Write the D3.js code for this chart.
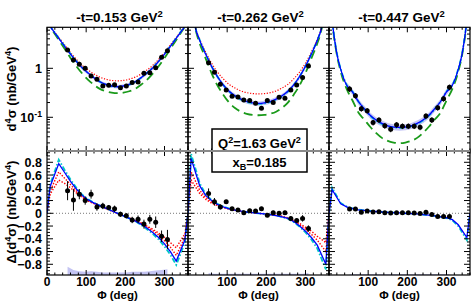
<!DOCTYPE html>
<html>
<head>
<meta charset="utf-8">
<script src="https://cdn.jsdelivr.net/npm/d3@7"></script>
<style>
body { margin: 0; background: #fff; }
text { font-family: "Liberation Sans", Arial, sans-serif; font-weight: bold; fill: #000; }
</style>
</head>
<body>
<svg width="474" height="302"></svg>
<script>
// ---- data ----
var panelTitles = ["0.153", "0.262", "0.447"];
var xTickLabels = [[0, 100, 200, 300], [100, 200, 300], [100, 200, 300]];

var dataPhi = [52.5, 67.5, 82.5, 97.5, 112.5, 127.5, 142.5, 157.5, 172.5,
               187.5, 202.5, 217.5, 232.5, 247.5, 262.5, 277.5, 292.5, 307.5];

// d4sigma (nb/GeV4)
var sig1 = [2.36, 1.48, 1.21, 1.0, 0.70, 0.60, 0.435, 0.45, 0.46, 0.40, 0.435, 0.51, 0.525, 0.79, 0.81, 1.03, 1.68, 2.29];
var sig2 = [1.30, 0.83, 0.47, 0.36, 0.27, 0.26, 0.225, 0.22, 0.193, 0.153, 0.22, 0.20, 0.256, 0.245, 0.36, 0.456, 0.65, 1.11];
var sig3 = [0.378, 0.276, 0.15, 0.136, 0.078, 0.088, 0.067, 0.057, 0.070, 0.066, 0.066, 0.066, 0.0625, 0.106, 0.088, 0.157, 0.24, 0.41];
var sigErrRel = [0.05, 0.07, 0.13];

// Delta(d4sigma)
var dif1 = [0.355, 0.21, 0.30, 0.20, 0.30, 0.10, 0.115, 0.09, 0.07, -0.015, -0.04, -0.105, -0.095, -0.17, -0.095, -0.14, -0.36, -0.41];
var dif1Err = [0.15, 0.17, 0.08, 0.065, 0.07, 0.06, 0.05, 0.04, 0.05, 0.04, 0.04, 0.05, 0.06, 0.07, 0.07, 0.09, 0.09, 0.15];
var dif2 = [0.31, 0.18, 0.10, 0.18, 0.07, 0.05, 0.01, 0.04, 0.035, 0.07, -0.03, 0.01, 0.0, 0.01, -0.08, -0.115, -0.08, -0.24];
var dif2Err = [0.08, 0.06, 0.04, 0.03, 0.03, 0.03, 0.03, 0.03, 0.03, 0.03, 0.03, 0.03, 0.03, 0.03, 0.03, 0.03, 0.05, 0.05];
var dif3 = [0.067, 0.067, 0.015, 0.035, 0.02, 0.025, 0.01, 0.005, 0.01, 0.01, 0.01, 0.005, -0.005, 0.015, -0.02, -0.05, -0.05, -0.05];
var dif3Err = [0.015, 0.015, 0.015, 0.015, 0.015, 0.015, 0.015, 0.015, 0.015, 0.015, 0.015, 0.015, 0.015, 0.015, 0.015, 0.015, 0.015, 0.015];

// systematic uncertainty of Delta
var sys1 = [0.13, 0.08, 0.06, 0.05, 0.06, 0.05, 0.04, 0.04, 0.04, 0.04, 0.04, 0.05, 0.05, 0.05, 0.06, 0.07, 0.08, 0.09];
var sys2 = [0.03, 0.02, 0.02, 0.02, 0.02, 0.02, 0.02, 0.02, 0.02, 0.02, 0.02, 0.02, 0.02, 0.02, 0.02, 0.02, 0.02, 0.03];
var sys3 = [0.01, 0.01, 0.01, 0.01, 0.01, 0.01, 0.01, 0.01, 0.01, 0.01, 0.01, 0.01, 0.01, 0.01, 0.01, 0.01, 0.01, 0.01];

// model curves, cross section
var phiTop = [0, 5, 10, 15, 20, 30, 45, 60, 75, 90, 105, 120, 135, 150, 165, 180,
              195, 210, 225, 240, 255, 270, 285, 300, 315, 330, 340, 345, 350, 355, 360];
var fit1 = [20, 10, 6.9, 6.0, 5.3, 4.1, 2.8, 1.95, 1.38, 1.02, 0.80, 0.64, 0.53, 0.47, 0.435, 0.42,
            0.435, 0.47, 0.53, 0.64, 0.80, 1.02, 1.38, 1.95, 2.8, 4.1, 5.3, 6.0, 6.9, 10, 20];
var cya1 = [20, 10, 7.0, 6.1, 5.35, 4.15, 2.85, 1.98, 1.40, 1.03, 0.80, 0.64, 0.53, 0.465, 0.43, 0.415,
            0.43, 0.465, 0.53, 0.64, 0.80, 1.03, 1.40, 1.98, 2.85, 4.15, 5.35, 6.1, 7.0, 10, 20];
var red1 = [20, 10, 7.0, 6.1, 5.4, 4.3, 3.0, 2.1, 1.52, 1.15, 0.92, 0.76, 0.66, 0.60, 0.565, 0.555,
            0.565, 0.60, 0.66, 0.76, 0.92, 1.15, 1.52, 2.1, 3.0, 4.3, 5.4, 6.1, 7.0, 10, 20];
var grn1 = [20, 10, 6.8, 5.8, 5.0, 3.8, 2.5, 1.62, 1.10, 0.78, 0.58, 0.46, 0.38, 0.34, 0.318, 0.31,
            0.318, 0.34, 0.38, 0.46, 0.58, 0.78, 1.10, 1.62, 2.5, 3.8, 5.0, 5.8, 6.8, 10, 20];

var fit2 = [80, 30, 15, 9.5, 6.2, 3.7, 1.95, 1.10, 0.68, 0.46, 0.34, 0.275, 0.235, 0.21, 0.197, 0.192,
            0.197, 0.21, 0.235, 0.275, 0.34, 0.46, 0.68, 1.10, 1.95, 3.7, 6.2, 9.5, 15, 30, 80];
var cya2 = [80, 30, 15, 9.6, 6.3, 3.75, 1.98, 1.11, 0.68, 0.455, 0.335, 0.27, 0.23, 0.205, 0.193, 0.188,
            0.193, 0.205, 0.23, 0.27, 0.335, 0.455, 0.68, 1.11, 1.98, 3.75, 6.3, 9.6, 15, 30, 80];
var red2 = [80, 30, 15, 9.6, 6.4, 3.9, 2.15, 1.28, 0.84, 0.61, 0.47, 0.395, 0.345, 0.318, 0.305, 0.30,
            0.305, 0.318, 0.345, 0.395, 0.47, 0.61, 0.84, 1.28, 2.15, 3.9, 6.4, 9.6, 15, 30, 80];
var grn2 = [80, 30, 14, 8.8, 5.8, 3.2, 1.6, 0.80, 0.45, 0.29, 0.20, 0.155, 0.13, 0.118, 0.112, 0.11,
            0.112, 0.118, 0.13, 0.155, 0.20, 0.29, 0.45, 0.80, 1.6, 3.2, 5.8, 8.8, 14, 30, 80];

var fit3 = [40, 15, 6.9, 3.5, 2.0, 0.95, 0.45, 0.33, 0.21, 0.15, 0.11, 0.088, 0.075, 0.067, 0.063, 0.062,
            0.063, 0.067, 0.075, 0.088, 0.11, 0.15, 0.21, 0.33, 0.45, 0.95, 2.0, 3.5, 6.9, 15, 40];
var cya3 = [40, 15, 7.0, 3.6, 2.05, 0.97, 0.46, 0.335, 0.21, 0.148, 0.108, 0.086, 0.073, 0.066, 0.062, 0.061,
            0.062, 0.066, 0.073, 0.086, 0.108, 0.148, 0.21, 0.335, 0.46, 0.97, 2.05, 3.6, 7.0, 15, 40];
var grn3 = [40, 15, 6.5, 3.3, 1.9, 0.85, 0.38, 0.22, 0.125, 0.09, 0.064, 0.048, 0.038, 0.033, 0.0305, 0.0295,
            0.0305, 0.033, 0.038, 0.048, 0.064, 0.09, 0.125, 0.22, 0.38, 0.85, 1.9, 3.3, 6.5, 15, 40];
var bandRel = [0.08, 0.10, 0.14];

// model curves, helicity difference
var phiBot = [0, 8, 30, 45, 60, 75, 90, 105, 120, 135, 150, 165, 180,
              195, 210, 225, 240, 255, 270, 285, 300, 315, 330, 352, 360];
var dFit1 = [0, 0.42, 0.78, 0.64, 0.50, 0.38, 0.28, 0.21, 0.16, 0.12, 0.08, 0.04, 0,
             -0.04, -0.08, -0.12, -0.17, -0.23, -0.30, -0.38, -0.48, -0.60, -0.75, -0.42, 0];
var dCya1 = [0, 0.45, 0.84, 0.68, 0.53, 0.40, 0.29, 0.22, 0.165, 0.12, 0.08, 0.04, 0,
             -0.04, -0.08, -0.12, -0.18, -0.25, -0.32, -0.41, -0.52, -0.65, -0.81, -0.46, 0];
var dRedA1 = [0, 0.35, 0.65, 0.55, 0.45, 0.35, 0.27, 0.20, 0.155, 0.115, 0.075, 0.037, 0,
              -0.037, -0.075, -0.115, -0.16, -0.21, -0.27, -0.34, -0.43, -0.53, -0.66, -0.38, 0];
var dRedB1 = [0, 0.30, 0.52, 0.47, 0.40, 0.32, 0.25, 0.19, 0.15, 0.11, 0.072, 0.035, 0,
              -0.035, -0.072, -0.11, -0.15, -0.20, -0.25, -0.31, -0.38, -0.46, -0.54, -0.32, 0];

var dFit2 = [0, 0.86, 0.43, 0.28, 0.20, 0.14, 0.10, 0.07, 0.05, 0.035, 0.02, 0.01, 0,
             -0.01, -0.02, -0.035, -0.055, -0.08, -0.13, -0.20, -0.28, -0.38, -0.50, -0.80, 0];
var dCya2 = [0, 0.93, 0.47, 0.30, 0.21, 0.15, 0.105, 0.075, 0.052, 0.036, 0.02, 0.01, 0,
             -0.01, -0.02, -0.036, -0.058, -0.085, -0.14, -0.21, -0.30, -0.41, -0.55, -0.88, 0];
var dRedA2 = [0, 0.65, 0.36, 0.25, 0.18, 0.13, 0.095, 0.07, 0.05, 0.035, 0.02, 0.01, 0,
              -0.01, -0.02, -0.035, -0.05, -0.075, -0.12, -0.18, -0.25, -0.33, -0.42, -0.60, 0];
var dRedB2 = [0, 0.52, 0.31, 0.22, 0.16, 0.12, 0.09, 0.065, 0.047, 0.033, 0.02, 0.01, 0,
              -0.01, -0.02, -0.033, -0.047, -0.07, -0.11, -0.16, -0.22, -0.28, -0.36, -0.46, 0];

var dFit3 = [0, 0.37, 0.15, 0.10, 0.075, 0.055, 0.045, 0.035, 0.028, 0.02, 0.015, 0.01, 0.005,
             0, -0.005, -0.01, -0.02, -0.03, -0.04, -0.055, -0.07, -0.10, -0.18, -0.38, 0];
var dCya3 = [0, 0.40, 0.16, 0.105, 0.078, 0.057, 0.046, 0.036, 0.028, 0.02, 0.015, 0.01, 0.005,
             0, -0.005, -0.01, -0.02, -0.03, -0.042, -0.058, -0.075, -0.11, -0.20, -0.42, 0];

// ---- layout ----
var svg = d3.select("svg");
var W = 141, X0 = [47, 188, 329];
var TOP = 27.3, MID = 151, BOT = 275;
var yTop = d3.scaleLog().domain([0.0205, 6.87]).range([MID, TOP]);
var yBot = d3.scaleLinear().domain([-0.968, 0.977]).range([BOT, MID]);

var panels = [
  { sig: sig1, dif: dif1, difErr: dif1Err, sys: sys1,
    top: { fit: fit1, cya: cya1, red: red1, grn: grn1 },
    bot: { fit: dFit1, cya: dCya1, reds: [dRedA1, dRedB1] } },
  { sig: sig2, dif: dif2, difErr: dif2Err, sys: sys2,
    top: { fit: fit2, cya: cya2, red: red2, grn: grn2 },
    bot: { fit: dFit2, cya: dCya2, reds: [dRedA2, dRedB2] } },
  { sig: sig3, dif: dif3, difErr: dif3Err, sys: sys3,
    top: { fit: fit3, cya: cya3, red: null, grn: grn3 },
    bot: { fit: dFit3, cya: dCya3, reds: [] } }
];

var defs = svg.append("defs");

function supText(sel, parts) {
  // parts: [text, mode] with mode "" / "sup" / "sub"
  var shift = 0;
  parts.forEach(function(p) {
    var t = sel.append("tspan").text(p[0]);
    var target = p[1] == "sup" ? -5 : p[1] == "sub" ? 3 : 0;
    t.attr("dy", target - shift);
    if (p[1]) t.attr("font-size", "0.7em");
    shift = target;
  });
}

panels.forEach(function(p, i) {
  var x = d3.scaleLinear().domain([0, 360]).range([X0[i], X0[i] + W]);

  defs.append("clipPath").attr("id", "ct" + i).append("rect")
      .attr("x", X0[i]).attr("y", TOP).attr("width", W).attr("height", MID - TOP);
  defs.append("clipPath").attr("id", "cb" + i).append("rect")
      .attr("x", X0[i]).attr("y", MID).attr("width", W).attr("height", BOT - MID);

  // ---------- top panel ----------
  var gt = svg.append("g").attr("clip-path", "url(#ct" + i + ")");
  var lineT = d3.line().x(function(d) { return x(d[0]); })
      .y(function(d) { return yTop(d[1]); }).curve(d3.curveMonotoneX);
  var pairs = function(arr) { return phiTop.map(function(f, k) { return [f, arr[k]]; }); };

  var bandIdx = d3.range(phiTop.indexOf(45), phiTop.indexOf(315) + 1);
  gt.append("path")
    .attr("fill", "#b7b7f2").attr("opacity", 0.8)
    .attr("d", d3.area().curve(d3.curveMonotoneX)
      .x(function(k) { return x(phiTop[k]); })
      .y0(function(k) { return yTop(p.top.fit[k] * (1 - bandRel[i])); })
      .y1(function(k) { return yTop(p.top.fit[k] * (1 + bandRel[i])); })(bandIdx));

  gt.append("path").attr("fill", "none").attr("stroke", "#1a9a1a").attr("stroke-width", 1.8)
    .attr("stroke-dasharray", "9,5").attr("d", lineT(pairs(p.top.grn)));
  if (p.top.red)
    gt.append("path").attr("fill", "none").attr("stroke", "#ff0000").attr("stroke-width", 1.2)
      .attr("stroke-dasharray", "1.2,1.6").attr("d", lineT(pairs(p.top.red)));
  gt.append("path").attr("fill", "none").attr("stroke", "#00c8c8").attr("stroke-width", 1.8)
    .attr("stroke-dasharray", "5,2,1.5,2").attr("d", lineT(pairs(p.top.cya)));
  gt.append("path").attr("fill", "none").attr("stroke", "#0000ff").attr("stroke-width", 1.3)
    .attr("d", lineT(pairs(p.top.fit)));

  gt.selectAll(".et").data(dataPhi).enter().append("line")
    .attr("stroke", "#000").attr("stroke-width", 1)
    .attr("x1", function(f) { return x(f); }).attr("x2", function(f) { return x(f); })
    .attr("y1", function(f, k) { return yTop(p.sig[k] * (1 - sigErrRel[i])); })
    .attr("y2", function(f, k) { return yTop(p.sig[k] * (1 + sigErrRel[i])); });
  gt.selectAll(".pt").data(dataPhi).enter().append("circle")
    .attr("r", 2.5).attr("fill", "#000")
    .attr("cx", function(f) { return x(f); })
    .attr("cy", function(f, k) { return yTop(p.sig[k]); });

  // ---------- bottom panel ----------
  var gb = svg.append("g").attr("clip-path", "url(#cb" + i + ")");
  var lineB = d3.line().x(function(d) { return x(d[0]); })
      .y(function(d) { return yBot(d[1]); });
  var pairsB = function(arr) { return phiBot.map(function(f, k) { return [f, arr[k]]; }); };
  var ymin = yBot.domain()[0];

  gb.append("path").attr("fill", "#c4c4f2")
    .attr("d", d3.area().x(function(f) { return x(f); })
      .y0(yBot(ymin))
      .y1(function(f, k) { return yBot(ymin + p.sys[k]); })(dataPhi));

  gb.append("line").attr("x1", x(0)).attr("x2", x(360))
    .attr("y1", yBot(0)).attr("y2", yBot(0))
    .attr("stroke", "#777").attr("stroke-width", 1).attr("stroke-dasharray", "1,2");

  p.bot.reds.forEach(function(r) {
    gb.append("path").attr("fill", "none").attr("stroke", "#ff0000").attr("stroke-width", 1.4)
      .attr("stroke-dasharray", "1.4,1.6").attr("d", lineB(pairsB(r)));
  });
  gb.append("path").attr("fill", "none").attr("stroke", "#00c8c8").attr("stroke-width", 1.8)
    .attr("stroke-dasharray", "5,2,1.5,2").attr("d", lineB(pairsB(p.bot.cya)));
  gb.append("path").attr("fill", "none").attr("stroke", "#0000ff").attr("stroke-width", 1.3)
    .attr("d", lineB(pairsB(p.bot.fit)));

  gb.selectAll(".eb").data(dataPhi).enter().append("line")
    .attr("stroke", "#000").attr("stroke-width", 1)
    .attr("x1", function(f) { return x(f); }).attr("x2", function(f) { return x(f); })
    .attr("y1", function(f, k) { return yBot(p.dif[k] - p.difErr[k]); })
    .attr("y2", function(f, k) { return yBot(p.dif[k] + p.difErr[k]); });
  gb.selectAll(".pb").data(dataPhi).enter().append("circle")
    .attr("r", 2.5).attr("fill", "#000")
    .attr("cx", function(f) { return x(f); })
    .attr("cy", function(f, k) { return yBot(p.dif[k]); });

  // ---------- ticks ----------
  var ax = svg.append("g").attr("stroke", "#000").attr("stroke-width", 1);
  x.ticks(18).forEach(function(v) {
    var len = v % 100 == 0 ? 5 : 2.5;
    [[MID, -1], [TOP, 1], [BOT, -1], [MID, 1]].forEach(function(e) {
      ax.append("line").attr("x1", x(v)).attr("x2", x(v))
        .attr("y1", e[0]).attr("y2", e[0] + e[1] * len);
    });
  });
  yTop.ticks().forEach(function(v) {
    var lg = Math.log10(v), major = Math.abs(lg - Math.round(lg)) < 1e-6;
    var len = major ? 6 : 3;
    ax.append("line").attr("x1", X0[i]).attr("x2", X0[i] + len)
      .attr("y1", yTop(v)).attr("y2", yTop(v));
    ax.append("line").attr("x1", X0[i] + W).attr("x2", X0[i] + W - len)
      .attr("y1", yTop(v)).attr("y2", yTop(v));
  });
  yBot.ticks(50).forEach(function(v) {
    var major = Math.abs(v / 0.2 - Math.round(v / 0.2)) < 1e-6;
    var len = major ? 6 : 3;
    ax.append("line").attr("x1", X0[i]).attr("x2", X0[i] + len)
      .attr("y1", yBot(v)).attr("y2", yBot(v));
    ax.append("line").attr("x1", X0[i] + W).attr("x2", X0[i] + W - len)
      .attr("y1", yBot(v)).attr("y2", yBot(v));
  });

  // frames
  svg.append("rect").attr("x", X0[i]).attr("y", TOP).attr("width", W).attr("height", BOT - TOP)
    .attr("fill", "none").attr("stroke", "#000").attr("stroke-width", 1.2);

  // titles
  var tt = svg.append("text").attr("x", X0[i] + W / 2 + 2).attr("y", 22)
    .attr("text-anchor", "middle").attr("font-size", 13.5);
  supText(tt, [["-t=" + panelTitles[i] + " GeV", ""], ["2", "sup"]]);

  // x labels
  svg.selectAll(null).data(xTickLabels[i]).enter().append("text")
    .attr("x", function(v) { return x(v); }).attr("y", 285.5)
    .attr("text-anchor", "middle").attr("font-size", 12).text(function(v) { return v; });
  svg.append("text").attr("x", X0[i] + W / 2).attr("y", 299)
    .attr("text-anchor", "middle").attr("font-size", 11.5).text("\u03A6 (deg)");
});

// y labels (left panel only)
[[1, [["1", ""]]], [0.1, [["10", ""], ["-1", "sup"]]]].forEach(function(t) {
  var tx = svg.append("text").attr("x", 42).attr("y", yTop(t[0]) + 4.5)
    .attr("text-anchor", "end").attr("font-size", 12.5);
  supText(tx, t[1]);
});
d3.range(-4, 5).forEach(function(k) {
  var v = k * 0.2;
  svg.append("text").attr("x", 42).attr("y", yBot(v) + 4.5)
    .attr("text-anchor", "end").attr("font-size", 12.5)
    .text(k == 0 ? "0" : d3.format(".1f")(v));
});

var yl1 = svg.append("text").attr("transform", "translate(16,89) rotate(-90)")
  .attr("text-anchor", "middle").attr("font-size", 13);
supText(yl1, [["d", ""], ["4", "sup"], ["\u03C3 (nb/GeV", ""], ["4", "sup"], [")", ""]]);
var yl2 = svg.append("text").attr("transform", "translate(16,212) rotate(-90)")
  .attr("text-anchor", "middle").attr("font-size", 13);
supText(yl2, [["\u0394(d", ""], ["4", "sup"], ["\u03C3) (nb/GeV", ""], ["4", "sup"], [")", ""]]);

// kinematics box
svg.append("rect").attr("x", 212).attr("y", 129).attr("width", 95).attr("height", 43)
  .attr("fill", "#fff").attr("stroke", "#000").attr("stroke-width", 1.5);
var q = svg.append("text").attr("x", 259.5).attr("y", 148).attr("text-anchor", "middle").attr("font-size", 13);
supText(q, [["Q", ""], ["2", "sup"], ["=1.63 GeV", ""], ["2", "sup"]]);
var xb = svg.append("text").attr("x", 259.5).attr("y", 167).attr("text-anchor", "middle").attr("font-size", 13);
supText(xb, [["x", ""], ["B", "sub"], ["=0.185", ""]]);

// boundary between the two rows
svg.append("line").attr("x1", X0[0]).attr("x2", X0[2] + W).attr("y1", MID).attr("y2", MID)
  .attr("stroke", "#8a8a8a").attr("stroke-width", 2);
</script>
</body>
</html>
